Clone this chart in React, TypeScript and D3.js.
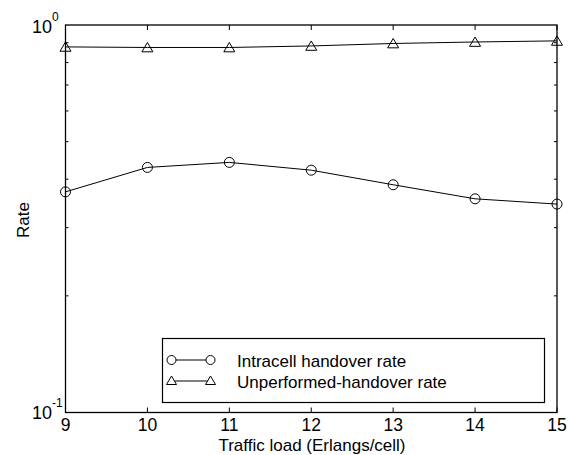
import React from "react";
import * as d3 from "d3";

const loads = [9, 10, 11, 12, 13, 14, 15];
const intracell = [0.371, 0.429, 0.442, 0.422, 0.387, 0.356, 0.345];
const unperformed = [0.878, 0.875, 0.875, 0.883, 0.896, 0.904, 0.91];
const xTicks = [9, 10, 11, 12, 13, 14, 15];
const yMinor = [0.2, 0.3, 0.4, 0.5, 0.6, 0.7, 0.8, 0.9];
const seriesNames = ["Intracell handover rate", "Unperformed-handover rate"];

const W = 572, H = 455;
const L = 65.5, R = 557, T = 25, B = 412.5;
const FONT = "Arial, 'Liberation Sans', sans-serif";

function tri(cx: number, cy: number, s = 5.5) {
  return `M${cx},${cy - s} L${cx + s},${cy + s * 0.7} L${cx - s},${cy + s * 0.7} Z`;
}

export default function App() {
  const x = d3.scaleLinear().domain([9, 15]).range([L, R]);
  const y = d3.scaleLog().domain([0.1, 1]).range([B, T]);
  const line = d3.line<number>().x((_, i) => x(loads[i])).y((d) => y(d));

  const lgX = 162.5, lgY = 338.5, lgW = 382, lgH = 64;
  const row1 = 360, row2 = 381;
  const mx1 = 171.5, mx2 = 210.5;

  return (
    <svg width={W} height={H} style={{ position: "absolute", left: 0, top: 0, background: "#fff" }}>
      <rect x={0} y={0} width={W} height={H} fill="#fff" />
      {/* ticks */}
      {xTicks.map((t) => (
        <g key={"xt" + t}>
          <line x1={x(t)} x2={x(t)} y1={B} y2={B - 5} stroke="#000" />
          <line x1={x(t)} x2={x(t)} y1={T} y2={T + 5} stroke="#000" />
          <text x={x(t)} y={430.5} textAnchor="middle" fontFamily={FONT} fontSize={17.5}>{t}</text>
        </g>
      ))}
      {yMinor.map((t) => (
        <g key={"ym" + t}>
          <line x1={L} x2={L + 3} y1={y(t)} y2={y(t)} stroke="#000" />
          <line x1={R} x2={R - 3} y1={y(t)} y2={y(t)} stroke="#000" />
        </g>
      ))}
      {/* y labels */}
      <text x={52} y={419} textAnchor="end" fontFamily={FONT} fontSize={18}>10</text>
      <text x={52} y={407} textAnchor="start" fontFamily={FONT} fontSize={12}>-1</text>
      <text x={52} y={33} textAnchor="end" fontFamily={FONT} fontSize={18}>10</text>
      <text x={52} y={20.5} textAnchor="start" fontFamily={FONT} fontSize={12}>0</text>
      {/* axis titles */}
      <text x={312} y={450.5} textAnchor="middle" fontFamily={FONT} fontSize={17}>Traffic load (Erlangs/cell)</text>
      <text transform={`translate(29,220) rotate(-90)`} textAnchor="middle" fontFamily={FONT} fontSize={17}>Rate</text>
      {/* series */}
      <path d={line(unperformed) || ""} fill="none" stroke="#000" strokeWidth={1} />
      {unperformed.map((v, i) => (
        <path key={"u" + i} d={tri(x(loads[i]), y(v) + 0.5)} fill="none" stroke="#000" strokeWidth={1} />
      ))}
      <path d={line(intracell) || ""} fill="none" stroke="#000" strokeWidth={1} />
      {intracell.map((v, i) => (
        <circle key={"c" + i} cx={x(loads[i])} cy={y(v)} r={5} fill="none" stroke="#000" strokeWidth={1} />
      ))}
      {/* frame */}
      <rect x={L} y={T} width={R - L} height={B - T} fill="none" stroke="#000" strokeWidth={1.3} />
      {/* legend */}
      <rect x={lgX} y={lgY} width={lgW} height={lgH} fill="#fff" stroke="#000" strokeWidth={1.2} />
      <line x1={mx1} x2={mx2} y1={row1} y2={row1} stroke="#000" />
      <circle cx={mx1} cy={row1} r={4.5} fill="#fff" stroke="#000" />
      <circle cx={mx2} cy={row1} r={4.5} fill="#fff" stroke="#000" />
      <text x={237} y={366.5} fontFamily={FONT} fontSize={17}>{seriesNames[0]}</text>
      <line x1={mx1} x2={mx2} y1={row2} y2={row2} stroke="#000" />
      <path d={tri(mx1, row2, 5)} fill="#fff" stroke="#000" />
      <path d={tri(mx2, row2, 5)} fill="#fff" stroke="#000" />
      <text x={237} y={387.5} fontFamily={FONT} fontSize={17}>{seriesNames[1]}</text>
    </svg>
  );
}
